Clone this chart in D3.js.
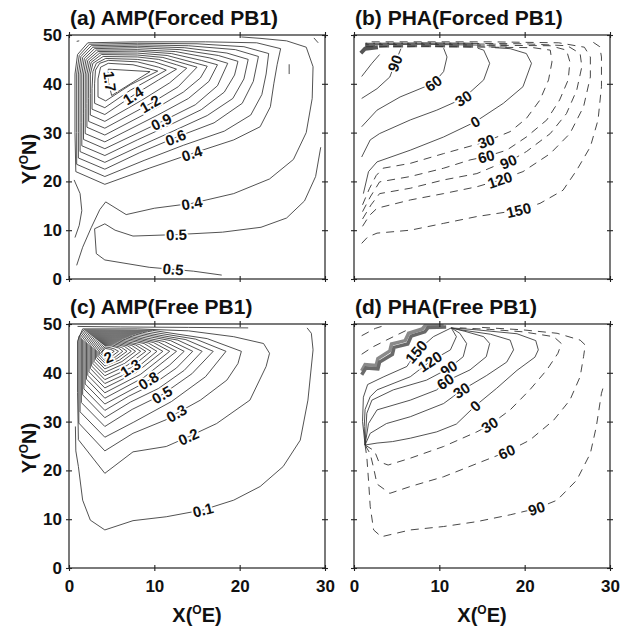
<!DOCTYPE html>
<html>
<head>
<meta charset="utf-8">
<script src="https://cdn.jsdelivr.net/npm/d3@7"></script>
<style>
	body { margin: 0; background: #fff; }
	svg { display: block; font-family: "Liberation Sans", Arial, Helvetica, sans-serif; }
</style>
</head>
<body>
<div id="chart-area"></div>
<script>
// Contour lines, in data units: [x (deg E), y (deg N)]
const xTicks = [0, 10, 20, 30]
const yTicks = [0, 10, 20, 30, 40, 50]

// ---------- (a) AMP(Forced PB1) ----------
const ampForced04 = [[4.2,19.4],[0.8,22.0],[0.7,30],[0.7,42],[1.0,46.0],[2.2,48.4],[8,48.6],[16,48.6],[22,48.4],[24.8,47.2],[24.4,44],[24.0,40],[23.6,35.3],[22.4,31.2],[19.3,28.5],[14.4,25.7],[9.4,22.7],[4.2,19.4]]
const ampForced05 = [[4.2,21.0],[0.9,23.5],[0.9,30],[0.9,42],[1.2,45.8],[2.4,48.1],[8,48.3],[15,48.2],[20.5,47.6],[23.4,46.2],[23.1,42],[22.6,37.8],[21.3,33.6],[18.2,30.3],[13.4,27.4],[8.8,24.3],[4.2,21.0]]
const ampForced06 = [[4.2,22.5],[1.1,24.8],[1.1,30],[1.1,42],[1.4,45.6],[2.6,47.8],[8,48.0],[14,47.8],[19.5,47.0],[22.2,45.6],[21.6,40.5],[20.3,36],[17,32],[12.5,29],[8.3,25.9],[4.2,22.5]]
const ampForced07 = [[4.2,23.9],[1.3,26.1],[1.3,32],[1.3,42],[1.6,45.4],[2.8,47.5],[8,47.7],[13.5,47.4],[18.5,46.3],[21.0,45.0],[20.5,41],[19.2,37],[16.2,33.5],[12.2,30.3],[8,27],[4.2,23.9]]
const ampForced08 = [[4.2,25.3],[1.5,27.3],[1.5,32],[1.5,42],[1.8,45.2],[3.0,47.2],[8,47.4],[13,47.0],[17.5,45.8],[19.8,44.6],[19.4,41.8],[18.2,38.3],[15.5,34.7],[11.5,31.3],[8,28.5],[4.2,25.3]]
const ampForced09 = [[4.2,26.7],[1.7,28.6],[1.7,34],[1.7,42],[2.0,45.0],[3.2,46.9],[8,47.0],[12.5,46.6],[16.5,45.3],[18.6,44.2],[17.4,39.6],[14.8,35.7],[10.8,32.2],[4.2,26.7]]
const ampForced10 = [[4.2,28.1],[1.9,29.8],[1.9,35],[1.9,42],[2.2,44.8],[3.4,46.6],[8,46.7],[12,46.2],[15.5,44.8],[17.4,43.9],[16.4,40.5],[14,37],[10.4,33.6],[4.2,28.1]]
const ampForced11 = [[4.2,29.5],[2.1,31.1],[2.1,36],[2.1,42],[2.4,44.6],[3.6,46.3],[8,46.3],[11.5,45.8],[14.5,44.4],[16.2,43.6],[15.4,41.2],[13.4,38.3],[10,34.8],[4.2,29.5]]
const ampForced12 = [[4.2,30.9],[2.3,32.3],[2.3,37],[2.3,42],[2.6,44.4],[3.8,46.0],[8,45.9],[11,45.4],[13.6,44.1],[15.0,43.4],[12.8,39.4],[9.5,35.9],[4.2,30.9]]
const ampForced13 = [[4.2,32.3],[2.5,33.6],[2.5,38],[2.5,42],[2.8,44.2],[4.0,45.6],[8,45.5],[10.5,45.0],[12.6,43.9],[13.8,43.2],[11.8,40.2],[8.5,36.6],[4.2,32.3]]
const ampForced14 = [[4.2,33.7],[2.7,34.8],[2.7,39],[2.8,42.5],[3.2,44.2],[4.3,45.2],[8,45.0],[10,44.5],[11.6,43.6],[12.6,43.0],[10.5,40.8],[7.5,37.6],[4.2,33.7]]
const ampForced15 = [[4.2,35.1],[3.0,36.0],[3.0,40],[3.1,42.8],[3.6,44.2],[4.6,44.8],[8,44.5],[10.5,43.4],[11.4,42.8],[7.2,38.7],[4.2,35.1]]
const ampForced16 = [[4.3,36.5],[3.4,37.3],[3.4,41],[3.7,43.4],[4.6,44.2],[7.5,43.9],[10.4,42.6],[7.2,39.8],[4.3,36.5]]
const ampForced17 = [[4.6,43.0],[9.5,42.5],[5.0,37.6],[4.6,40.5],[4.6,43.0]]
const ampForcedLow04 = [[0.9,2.8],[1.6,6.5],[2.6,10.5],[3.6,14.2],[4.3,15.8],[6.7,13.2],[10,14.5],[14.4,15.5],[19.3,17.5],[23.5,20.5],[26.3,24.5],[27.8,30],[28.5,37],[28.6,43.5],[27.8,47.5],[25.5,48.8],[22.5,49.3],[20.2,49.6]]
const ampForcedLow05 = [[17.9,0.8],[14.6,1.6],[9.4,2.4],[4.2,3.9],[3.2,5.2],[3.0,10.3],[4.2,11.3],[5.4,10.0],[7.5,8.8],[12.6,9.1],[18,9.6],[22.5,10.6],[25.5,12.5],[27.6,16],[28.9,21],[29.5,27]]
const ampForcedWest = [[0.6,20.3],[1.3,17.5],[1.5,14],[1.2,11],[0.7,8.5]]
const ampForcedBits = [[[25.8,42.0],[25.8,44.0]], [[28.7,49.4],[29.2,48.4]], [[0.9,48.7],[1.2,48.8]]]
const ampForcedLabels = [['1.7',4.8,40.5],['1.4',7.5,37.6],['1.2',9.5,35.9],['0.9',10.8,32.2],['0.6',12.5,29.0],['0.4',14.4,25.7],['0.4',14.4,15.5],['0.5',12.6,9.1],['0.5',12.2,2.0]]

// ---------- (b) PHA(Forced PB1) ----------
const phaForced90 = [[0.9,37],[2.7,39],[4.2,41.4],[4.8,44.2],[5.5,47.2]]
const phaForced60 = [[0.9,31.2],[2.7,34.6],[5.4,37.3],[9.3,40.1],[10.5,42.5],[10.9,45.5],[10.5,47.3]]
const phaForced30 = [[0.9,25],[1.9,28.5],[3,29.8],[6.6,32.6],[9.7,34.6],[12.8,37],[15.2,40.8],[15.9,44.2],[15.2,46.9],[14.5,47.3]]
const phaForced0 = [[1.1,17.5],[1.7,22],[2.7,24],[6.6,26.4],[10.5,29.1],[14.2,32.2],[17.5,36],[19.8,39.4],[20.8,44.2],[20.2,46.2],[18.3,47.2],[16.5,47.4]]
const phaForced120 = [[0.9,41.5],[2.1,44.2],[3.0,46.0]]
const phaForcedM30 = [[1.0,15.2],[1.8,18.5],[2.6,21.2],[3.4,22.7],[6.6,23.7],[10.5,25.7],[14.4,27.6],[15.5,28.2],[18.3,30.2],[20.2,32.9],[21.8,36.7],[22.8,40.8],[23.2,44.5],[23.0,46.9],[21.0,47.4],[16.0,47.5],[8,47.7],[1.4,47.6]]
const phaForcedM60 = [[1.0,13.8],[1.9,16.8],[3.0,19.9],[6.6,21.0],[10.5,22.7],[13.6,24.4],[15.5,25.1],[17.9,26.4],[20.2,29.1],[22.6,32.6],[24.1,36.7],[25.1,40.8],[25.3,44.5],[24.9,46.9],[23.0,47.8],[16,47.9],[8,48.1],[1.4,48.0]]
const phaForcedM90 = [[1.0,12.3],[2.0,15.2],[3.0,17.5],[6.6,18.6],[10.5,20.3],[14.4,21.6],[16.7,23.3],[18.1,24.0],[20.2,26.1],[23.0,29.8],[24.9,33.9],[26.1,38.7],[26.7,43.5],[26.5,46.2],[25.0,47.8],[20,48.2],[12,48.3],[1.4,48.3]]
const phaForcedM120 = [[1.0,10.8],[1.8,13.0],[2.7,14.5],[6.6,16.2],[10.5,17.5],[14.4,18.9],[17.1,20.3],[19.8,22.0],[23.0,25.7],[25.3,29.8],[26.9,35.3],[27.7,41.4],[27.7,45.5],[27.0,47.5],[24.0,48.4],[16,48.6],[1.5,48.6]]
const phaForcedM150 = [[0.9,7.3],[1.6,8.6],[2.7,9.4],[6.6,10.0],[10.5,11.4],[14.4,12.8],[19.3,14.1],[21.8,15.5],[24.5,18.2],[26.1,22.3],[27.7,27.1],[28.6,32.6],[29.0,39.4],[29.0,45.5],[28.8,47.6],[27.7,48.9]]
const phaForcedJump = [[1.3,47.9],[8,48.0],[14.5,47.9]]
const phaForcedJumpEast = [[14.5,47.9],[18,47.8]]
const phaForcedJumpWest = [[0.8,46.3],[1.3,47.2],[2.8,47.5]]
const phaForcedLabels = [['90',4.8,44.2],['60',9.3,40.1],['30',12.8,37],['0',14.2,32.2],['30',15.5,28.2],['60',15.5,25.1],['90',18.1,24.0],['120',17.1,20.3],['150',19.3,14.1]]

// ---------- (c) AMP(Free PB1) ----------
const ampFree01 = [[0.75,29.0],[0.8,24],[1.1,20.8],[1.6,13.9],[2.5,9.8],[4.2,7.8],[7.5,9.7],[11.4,10.5],[15.7,11.9],[19.3,13.9],[22.4,16.7],[25.1,20.8],[27.1,26.2],[28.0,34.4],[28.6,44.7],[28.4,48.1],[27.9,49.2]]
const ampFree01Top = [[1.0,49.5],[6,49.4],[14,49.3],[21,49.2]]
const ampFree02 = [[4.2,19.4],[1.1,26.3],[1.0,36],[1.0,46.5],[1.6,49.0],[8,49.0],[14,48.6],[19.3,47.4],[22.8,46.0],[23.5,44.0],[23.1,41.3],[21.2,34.4],[17.3,29.6],[14,26.9],[11.4,24.9],[7.5,23.8],[4.2,19.4]]
const ampFree03 = [[4.2,24.0],[1.15,29.7],[1.15,47.4],[1.75,48.8],[9.8,48.7],[16.2,47.0],[20.2,44.4],[19.8,41.9],[18.5,38.5],[15.4,34.4],[12.6,31.7],[11.4,30.4],[7.5,27.6],[4.2,24.0]]
const ampFree04 = [[4.2,26.8],[1.3,32.0],[1.3,47.2],[1.9,48.6],[9.2,48.5],[14.85,46.9],[18.4,44.4],[16.0,39.2],[12.0,34.1],[7.6,29.9],[4.2,26.8]]
const ampFree05 = [[4.2,29.0],[1.45,33.9],[1.45,47.0],[2.05,48.4],[8.6,48.3],[13.7,46.8],[16.9,44.4],[14.4,39.8],[10.9,35.5],[7.4,32.5],[4.2,29.0]]
const ampFree06 = [[4.2,30.8],[1.6,35.5],[1.6,46.8],[2.2,48.2],[8.2,48.1],[12.75,46.7],[15.6,44.4],[13.5,40.5],[10.5,36.8],[7.2,34.0],[4.2,30.8]]
const ampFree07 = [[4.2,32.3],[1.75,36.7],[1.75,46.6],[2.35,48.0],[7.8,47.9],[11.9,46.6],[14.5,44.4],[12.6,41.0],[9.9,37.7],[7.0,35.2],[4.2,32.3]]
const ampFree08 = [[4.2,33.6],[1.9,37.7],[1.9,46.4],[2.5,47.8],[7.45,47.7],[11.2,46.4],[13.5,44.4],[11.8,41.6],[9.3,38.4],[4.2,33.6]]
const ampFree09 = [[4.2,34.8],[2.05,38.7],[2.05,46.2],[2.65,47.6],[7.1,47.5],[10.5,46.3],[12.6,44.4],[8.8,39.1],[4.2,34.8]]
const ampFree10 = [[4.2,35.9],[2.2,39.5],[2.2,46.0],[2.8,47.4],[6.9,47.3],[9.9,46.2],[11.8,44.4],[8.4,39.7],[4.2,35.9]]
const ampFree11 = [[4.2,36.9],[2.35,40.2],[2.35,45.8],[2.95,47.2],[6.6,47.1],[9.3,46.1],[11.0,44.4],[7.9,40.1],[4.2,36.9]]
const ampFree12 = [[4.2,37.8],[2.5,40.9],[2.5,45.6],[3.1,47.0],[6.3,46.9],[8.8,46.0],[10.3,44.4],[7.6,40.5],[4.2,37.8]]
const ampFree13 = [[4.2,38.6],[2.65,41.4],[2.65,45.4],[3.25,46.8],[6.1,46.7],[8.25,45.8],[9.6,44.4],[7.2,41.0],[4.2,38.6]]
const ampFree14 = [[4.2,39.4],[2.8,41.9],[2.8,45.2],[3.4,46.6],[5.9,46.5],[7.8,45.7],[9.0,44.4],[6.8,41.5],[4.2,39.4]]
const ampFree15 = [[4.2,40.1],[2.95,42.3],[2.95,45.0],[3.55,46.4],[5.7,46.3],[7.35,45.6],[8.4,44.4],[6.5,41.9],[4.2,40.1]]
const ampFree16 = [[4.2,40.8],[3.1,42.8],[3.1,44.8],[3.7,46.2],[5.5,46.1],[6.9,45.5],[7.8,44.4],[6.2,42.3],[4.2,40.8]]
const ampFree17 = [[4.2,41.4],[3.25,43.1],[3.25,44.6],[3.85,46.0],[5.3,45.9],[6.5,45.4],[7.3,44.4],[5.9,42.6],[4.2,41.4]]
const ampFree18 = [[4.2,42.0],[3.4,43.4],[3.4,44.4],[4.0,45.8],[5.1,45.7],[6.15,45.2],[6.8,44.4],[5.6,42.9],[4.2,42.0]]
const ampFree19 = [[4.2,42.5],[3.55,43.7],[3.55,44.3],[4.15,45.6],[4.95,45.5],[5.8,45.1],[6.3,44.4],[5.4,43.2],[4.2,42.5]]
const ampFree20 = [[4.2,43.0],[3.7,44.0],[4.2,45.3],[4.7,45.2],[5.3,44.9],[5.8,44.4],[5.1,43.5],[4.2,43.0]]
const ampFree21 = [[4.2,43.5],[3.85,44.2],[4.25,45.0],[4.9,44.8],[5.3,44.4],[4.8,43.8],[4.2,43.5]]
const ampFreeLabels = [['2',4.6,43.2],['1.3',7.2,41.0],['0.8',9.3,38.4],['0.5',10.9,35.5],['0.3',12.6,31.7],['0.2',14,26.9],['0.1',15.7,11.9]]

// ---------- (d) PHA(Free PB1) ----------
const phaFree0 = [[1.3,25.2],[2.7,25.6],[4.5,25.9],[6.6,26.6],[9.7,27.9],[12,29.5],[14.2,33.2],[16.7,36.8],[19.1,40.5],[21.2,43.2],[21.6,44.7],[21.3,46.6],[19.1,48.0],[14.4,48.8],[11.4,49.2]]
const phaFree30 = [[1.3,25.2],[1.9,27.6],[3.8,29.6],[6.6,31.0],[10.5,33.7],[12.6,36.4],[15.5,39.4],[17.9,42.2],[18.7,44.7],[18.3,46.7],[16,47.9],[12.5,48.8],[11.4,49.2]]
const phaFree60 = [[1.3,25.2],[1.7,29.6],[2.7,32.4],[6.6,34.4],[9.7,36.5],[10.7,38.2],[13.6,40.6],[15.5,43.3],[15.9,46.0],[15.2,47.4],[13,48.5],[11.4,49.2]]
const phaFree90 = [[1.3,25.2],[1.4,28.5],[1.5,31.7],[2.1,34.4],[4.6,36.5],[8.5,38.5],[11.1,40.9],[12.8,43.3],[13.2,46.0],[12.4,48.1],[11.4,49.2]]
const phaFree120 = [[1.3,25.2],[1.2,29],[1.3,32.5],[1.9,35.1],[2.7,36.5],[6.6,39.2],[8.9,42.3],[11.3,44.7],[12.0,47.4],[11.4,49.2]]
const phaFree150 = [[1.3,25.2],[1.0,30],[1.1,35],[1.6,37.6],[3.5,39.2],[6.2,41.3],[7.3,44.3],[9.3,47.4],[11.4,49.2]]
const phaFreeM30 = [[1.3,25.2],[2.4,24.0],[2.9,21.8],[4.0,21.1],[6.6,22.5],[10.5,24.9],[14.4,27.9],[15.9,29.3],[18.3,32.4],[20.6,36.5],[22.6,40.6],[23.9,44.0],[24.3,46.0],[23.4,47.4],[19.8,48.4],[15.9,48.9],[12.4,49.2]]
const phaFreeM60 = [[1.3,25.2],[1.9,23.4],[2.3,20.5],[2.7,17.2],[4.2,15.3],[6.6,16.7],[10.5,18.7],[14.4,21.4],[17.9,23.8],[20.6,26.2],[23.4,30.3],[25.3,34.4],[26.5,39.2],[26.9,43.3],[27.1,45.7],[26.5,46.7],[23.8,48.1],[19.8,48.8],[15,49.3]]
const phaFreeM90 = [[1.3,25.2],[1.5,22.8],[1.7,18],[1.9,12.6],[2.3,7.8],[3.2,6.4],[6.6,7.8],[10.5,8.5],[14.4,9.5],[18.3,10.9],[21.4,12.2],[23.8,13.9],[26.1,18],[27.7,23.5],[28.4,29],[29.0,35.8],[29.2,37]]
const phaFreeNW1 = [[0.9,47.6],[2.5,49.1],[3.4,49.6]]
const phaFreeNW2 = [[0.9,43.8],[2.2,45.3],[3.8,46.7],[5.2,47.9],[6.5,49.0]]
const phaFreeJump1 = [[0.9,39.6],[1.4,41.0],[2.8,40.8],[3.0,42.2],[4.5,43.8],[4.7,45.2],[6.3,45.9],[6.7,47.5],[8.3,48.4],[8.7,49.3],[10.8,49.4]]
const phaFreeJump2 = [[0.9,40.4],[1.3,41.7],[2.6,41.5],[2.8,42.9],[4.2,44.5],[4.4,45.9],[6.0,46.6],[6.4,48.1],[8.0,49.0],[8.3,49.6],[10.5,49.6]]
const phaFreeLabels = [['150',7.3,44.3],['120',8.9,42.3],['90',11.1,40.9],['60',10.7,38.2],['30',12.6,36.4],['0',14.2,33.2],['30',15.9,29.3],['60',17.9,23.8],['90',21.4,12.2]]

// ---------- layout ----------
const WIDTH = 256
const HEIGHT = 244
const LINE_COLOR = '#333'

const panels = [
	{ left: 69, top: 35, title: '(a) AMP(Forced PB1)', yLabels: true, xLabels: false,
		solid: [ampForced04, ampForced05, ampForced06, ampForced07, ampForced08, ampForced09, ampForced10,
			ampForced11, ampForced12, ampForced13, ampForced14, ampForced15, ampForced16, ampForced17,
			ampForcedLow04, ampForcedLow05, ampForcedWest, ...ampForcedBits],
		dashed: [], bands: [], labels: ampForcedLabels },
	{ left: 354, top: 35, title: '(b) PHA(Forced PB1)', yLabels: false, xLabels: false,
		solid: [phaForced90, phaForced60, phaForced30, phaForced0, phaForced120],
		dashed: [phaForcedM30, phaForcedM60, phaForcedM90, phaForcedM120, phaForcedM150],
		bands: [
			{ pts: phaForcedJump, width: 5, color: '#666', dash: '10,4' },
			{ pts: phaForcedJumpEast, width: 4, color: '#999', dash: '7,4' },
			{ pts: phaForcedJumpWest, width: 4, color: '#555', dash: null }
		],
		labels: phaForcedLabels },
	{ left: 69, top: 324, title: '(c) AMP(Free PB1)', yLabels: true, xLabels: true,
		solid: [ampFree01, ampFree01Top, ampFree02, ampFree03, ampFree04, ampFree05, ampFree06, ampFree07,
			ampFree08, ampFree09, ampFree10, ampFree11, ampFree12, ampFree13, ampFree14, ampFree15,
			ampFree16, ampFree17, ampFree18, ampFree19, ampFree20, ampFree21],
		dashed: [], bands: [], labels: ampFreeLabels },
	{ left: 354, top: 324, title: '(d) PHA(Free PB1)', yLabels: false, xLabels: true,
		solid: [phaFree0, phaFree30, phaFree60, phaFree90, phaFree120, phaFree150],
		dashed: [phaFreeM30, phaFreeM60, phaFreeM90, phaFreeNW1, phaFreeNW2],
		bands: [
			{ pts: phaFreeJump2, width: 3.5, color: '#8a8a8a', dash: null },
			{ pts: phaFreeJump1, width: 3.5, color: '#6a6a6a', dash: null }
		],
		labels: phaFreeLabels }
]

// ---------- drawing ----------
const svg = d3.select('#chart-area').append('svg')
	.attr('width', 629)
	.attr('height', 629)

const x = d3.scaleLinear().domain([0, 30]).range([0, WIDTH])
const y = d3.scaleLinear().domain([0, 50]).range([HEIGHT, 0])
const line = d3.line().x(d => x(d[0])).y(d => y(d[1]))

// direction of the contour under a label, so the label follows the line
function labelAngle(lines, px, py) {
	let best = null
	lines.forEach(pts => {
		const P = pts.map(d => [x(d[0]), y(d[1])])
		let acc = 0
		for (let i = 0; i < P.length - 1; i++) {
			const dx = P[i + 1][0] - P[i][0]
			const dy = P[i + 1][1] - P[i][1]
			const L = Math.hypot(dx, dy)
			if (L === 0) continue
			let t = ((px - P[i][0]) * dx + (py - P[i][1]) * dy) / (L * L)
			t = Math.max(0, Math.min(1, t))
			const dist = Math.hypot(px - (P[i][0] + t * dx), py - (P[i][1] + t * dy))
			if (!best || dist < best.dist - 1e-6) best = { dist: dist, P: P, s: acc + t * L }
			acc += L
		}
	})
	const at = (P, s) => {
		let acc = 0
		for (let i = 0; i < P.length - 1; i++) {
			const L = Math.hypot(P[i + 1][0] - P[i][0], P[i + 1][1] - P[i][1])
			if (acc + L >= s && L > 0) {
				const t = (s - acc) / L
				return [P[i][0] + t * (P[i + 1][0] - P[i][0]), P[i][1] + t * (P[i + 1][1] - P[i][1])]
			}
			acc += L
		}
		return P[P.length - 1]
	}
	const a = at(best.P, Math.max(0, best.s - 7))
	const b = at(best.P, best.s + 7)
	let ang = Math.atan2(b[1] - a[1], b[0] - a[0]) * 180 / Math.PI
	if (ang > 90) ang -= 180
	if (ang < -90) ang += 180
	return ang
}

panels.forEach(p => {
	const g = svg.append('g')
		.attr('transform', `translate(${p.left}, ${p.top})`)

	p.bands.forEach(b => {
		g.append('path')
			.attr('d', line(b.pts))
			.attr('fill', 'none')
			.attr('stroke', b.color)
			.attr('stroke-width', b.width)
			.attr('stroke-dasharray', b.dash)
	})

	g.selectAll('path.solid')
		.data(p.solid)
		.enter().append('path')
		.attr('class', 'solid')
		.attr('d', line)
		.attr('fill', 'none')
		.attr('stroke', LINE_COLOR)
		.attr('stroke-width', 0.85)
		.attr('stroke-linejoin', 'round')

	g.selectAll('path.dashed')
		.data(p.dashed)
		.enter().append('path')
		.attr('class', 'dashed')
		.attr('d', line)
		.attr('fill', 'none')
		.attr('stroke', LINE_COLOR)
		.attr('stroke-width', 0.9)
		.attr('stroke-dasharray', '8,6')

	// contour labels, with a white halo that breaks the line
	const allLines = p.solid.concat(p.dashed)
	p.labels.forEach(l => {
		const px = x(l[1])
		const py = y(l[2])
		const ang = labelAngle(allLines, px, py)
		g.append('text')
			.attr('transform', `translate(${px}, ${py}) rotate(${ang})`)
			.attr('text-anchor', 'middle')
			.attr('dy', '0.36em')
			.attr('font-size', '15px')
			.attr('font-weight', 'bold')
			.attr('fill', '#111')
			.attr('stroke', '#fff')
			.attr('stroke-width', 3.5)
			.attr('paint-order', 'stroke')
			.text(l[0])
	})

	// frame
	g.append('rect')
		.attr('width', WIDTH)
		.attr('height', HEIGHT)
		.attr('fill', 'none')
		.attr('stroke', '#222')
		.attr('stroke-width', 1.2)

	// ticks on all four sides, crossing the frame
	const styleAxis = sel => {
		sel.select('.domain').remove()
		sel.selectAll('line').attr('stroke', '#222').attr('stroke-width', 1.1)
		sel.attr('font-size', '17px')
			.attr('font-family', '"Liberation Sans", Arial, sans-serif')
			.attr('font-weight', 'bold')
		sel.selectAll('text').attr('fill', '#111')
	}
	g.append('g')
		.attr('transform', `translate(0, ${HEIGHT - 3})`)
		.call(d3.axisBottom(x).tickValues(xTicks).tickSize(6).tickPadding(9)
			.tickFormat(p.xLabels ? d3.format('d') : ''))
		.call(styleAxis)
	g.append('g')
		.attr('transform', 'translate(0, 3)')
		.call(d3.axisTop(x).tickValues(xTicks).tickSize(6).tickFormat(''))
		.call(styleAxis)
	g.append('g')
		.attr('transform', 'translate(3, 0)')
		.call(d3.axisLeft(y).tickValues(yTicks).tickSize(6).tickPadding(4)
			.tickFormat(p.yLabels ? d3.format('d') : ''))
		.call(styleAxis)
	g.append('g')
		.attr('transform', `translate(${WIDTH - 3}, 0)`)
		.call(d3.axisRight(y).tickValues(yTicks).tickSize(6).tickFormat(''))
		.call(styleAxis)

	// panel title
	svg.append('text')
		.attr('x', p.left + 1)
		.attr('y', p.top - 10)
		.attr('font-size', '21px')
		.attr('font-weight', 'bold')
		.attr('fill', '#111')
		.text(p.title)

	// y-axis label
	if (p.yLabels) {
		const t = svg.append('text')
			.attr('transform', `translate(36, ${p.top + HEIGHT / 2 + 2}) rotate(-90)`)
			.attr('text-anchor', 'middle')
			.attr('font-size', '20px')
			.attr('font-weight', 'bold')
			.attr('fill', '#111')
		t.append('tspan').text('Y(')
		t.append('tspan').attr('font-size', '12px').attr('dy', -8).text('O')
		t.append('tspan').attr('dy', 8).text('N)')
	}

	// x-axis label
	if (p.xLabels) {
		const t = svg.append('text')
			.attr('x', p.left + WIDTH / 2)
			.attr('y', 622)
			.attr('text-anchor', 'middle')
			.attr('font-size', '20px')
			.attr('font-weight', 'bold')
			.attr('fill', '#111')
		t.append('tspan').text('X(')
		t.append('tspan').attr('font-size', '12px').attr('dy', -8).text('O')
		t.append('tspan').attr('dy', 8).text('E)')
	}
})
</script>
</body>
</html>
